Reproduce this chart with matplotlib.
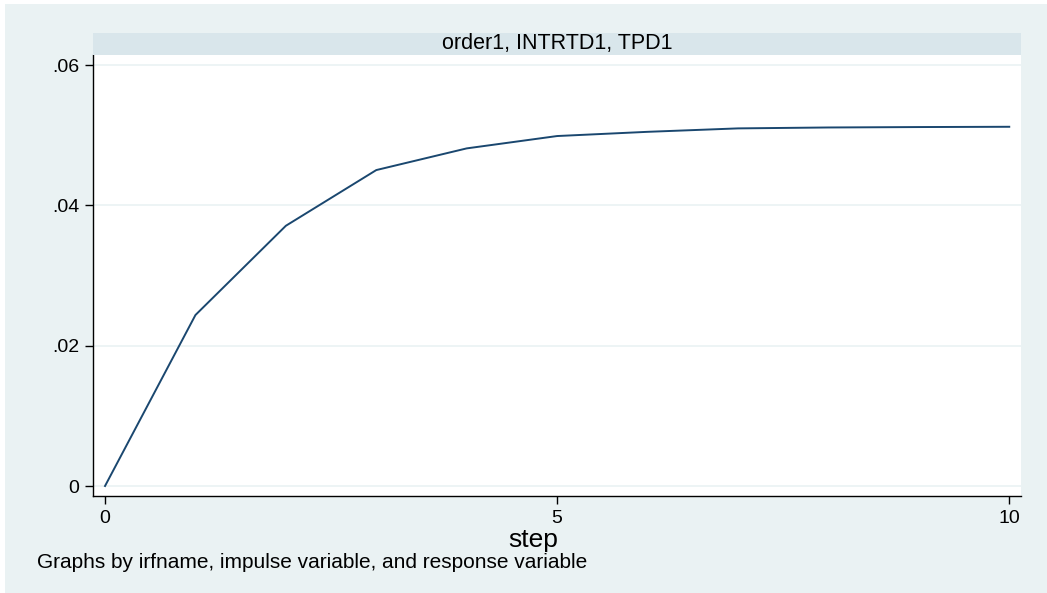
import matplotlib.pyplot as plt
from matplotlib.patches import Rectangle
import numpy as np

# irf values
steps = [0, 1, 2, 3, 4, 5, 6, 7, 8, 9, 10]
irf = [0.0, 0.02437, 0.03709, 0.04503, 0.04812, 0.04988,
       0.05048, 0.05097, 0.05110, 0.05116, 0.05120]
yticks = [0, 0.02, 0.04, 0.06]
ytick_labels = ['0', '.02', '.04', '.06']
xticks = [0, 5, 10]
panel_title = 'order1, INTRTD1, TPD1'
note = 'Graphs by irfname, impulse variable, and response variable'

W, H = 1047, 593
plt.rcParams['font.family'] = ['Liberation Sans', 'DejaVu Sans']
fig = plt.figure(figsize=(W / 100, H / 100), dpi=100, facecolor='white')

# outer graph region (light blue-grey)
fig.patches.append(Rectangle((5 / W, 0), 1 - 5 / W, 1 - 4 / H,
                             transform=fig.transFigure, facecolor='#EAF2F3',
                             edgecolor='none', zorder=-5))

# plot region
ax = fig.add_axes([93 / W, 1 - 496 / H, (1021 - 93) / W, (496 - 55) / H])
ax.set_facecolor('white')
ax.plot(steps, irf, color='#1A476F', lw=1.4)

ax.set_xlim(-0.133, 10.13)
ax.set_ylim(-0.001425, 0.06143)
ax.set_yticks(yticks)
ax.set_yticklabels(ytick_labels)
ax.set_xticks(xticks)
ax.grid(axis='y', color='#EAF2F3', lw=1.2)
ax.set_axisbelow(True)
for s in ['top', 'right']:
    ax.spines[s].set_visible(False)
for s in ['left', 'bottom']:
    ax.spines[s].set_color('black')
    ax.spines[s].set_linewidth(1.0)
ax.tick_params(direction='out', length=6, width=1, labelsize=14, pad=4,
               colors='black')

# strip title
strip = fig.add_axes([93 / W, 1 - 55 / H, (1021 - 93) / W, 22 / H])
strip.set_facecolor('#D9E6EB')
strip.set_xticks([])
strip.set_yticks([])
for s in strip.spines.values():
    s.set_visible(False)
strip.text(0.5, 0.5, panel_title, ha='center', va='center', fontsize=15.5,
           transform=strip.transAxes)

fig.text(533 / W, 1 - 540 / H, 'step', ha='center', va='center', fontsize=19)
fig.text(37 / W, 1 - 563 / H, note, ha='left', va='center', fontsize=15)

fig.savefig('out.png', dpi=100, facecolor=fig.get_facecolor())
